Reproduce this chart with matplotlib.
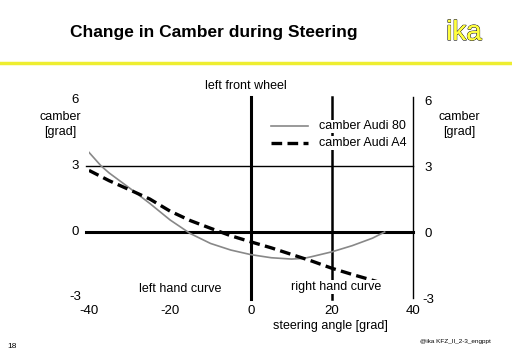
import matplotlib
matplotlib.use("Agg")
import matplotlib.pyplot as plt
import matplotlib.patheffects as pe

plt.rcParams['font.family'] = ['Liberation Sans', 'DejaVu Sans']

# steering angle [grad]
angle_80 = [-40, -37, -35, -30, -25, -20, -15, -10, -5, 0, 5, 10, 13, 15, 20, 25, 30, 33]
camber_80 = [3.62, 3.0, 2.68, 2.0, 1.3, 0.55, -0.07, -0.52, -0.82, -1.03, -1.17, -1.23, -1.2, -1.12, -0.9, -0.62, -0.28, 0.0]

angle_a4 = [-40, -35, -30, -25, -20, -15, -10, -5, 0, 5, 10, 15, 20, 25, 32]
camber_a4 = [2.8, 2.33, 1.92, 1.5, 0.95, 0.52, 0.17, -0.17, -0.45, -0.72, -1.02, -1.32, -1.65, -1.93, -2.3]

x_ticks = [-40, -20, 0, 20, 40]
y_ticks = [-3, 0, 3, 6]

W, H = 512, 354
fig = plt.figure(figsize=(W / 100, H / 100), dpi=100)

# header
fig.text(70 / W, 1 - 32 / H, "Change in Camber during Steering", fontsize=12.5,
         fontweight='bold', ha='left', va='center')
t = fig.text(464 / W, 1 - 33 / H, "ika", fontsize=20, color='#ffff40',
             ha='center', va='center')
t.set_path_effects([pe.withStroke(linewidth=0.8, foreground='black'), pe.Normal()])
fig.add_artist(plt.Line2D([0, 1], [1 - 63 / H, 1 - 63 / H], color='#eeee30', lw=2.5,
                          transform=fig.transFigure))
fig.text(12 / W, 1 - 346 / H, "18", fontsize=6, ha='center', va='center')
fig.text(455 / W, 1 - 342 / H, "@ika KFZ_II_2-3_engppt", fontsize=4.6, ha='center', va='center')

# axes: x -40..40 -> px 89..413 ; y -3..6 -> px 298..100
ax = fig.add_axes([89 / W, 1 - 298 / H, 324 / W, 198 / H])
ax.set_xlim(-40, 40)
ax.set_ylim(-3, 6)
ax.axis('off')

# grid / axis lines
ax.plot([-40.8, 40], [3, 3], color='black', lw=1, clip_on=False, zorder=1)
ax.plot([-40.8, 40], [0, 0], color='black', lw=2.2, clip_on=False, zorder=1)
ax.plot([0, 0], [-3.05, 6.15], color='black', lw=2.2, clip_on=False, zorder=1)
ax.plot([20, 20], [-3.05, 6.15], color='black', lw=1.8, clip_on=False, zorder=1)
ax.plot([40, 40], [-3.0, 6.15], color='black', lw=1, clip_on=False, zorder=1)

# curves
ax.plot(angle_80, camber_80, color='#888888', lw=1.2, zorder=3, label='camber Audi 80')
ax.plot(angle_a4, camber_a4, color='black', lw=2.4, dashes=(3.2, 1.6), zorder=3,
        label='camber Audi A4')

# tick labels
for xv in x_ticks:
    ax.text(xv, -3.6, f"{xv}", fontsize=9.5, ha='center', va='center')
for yv in y_ticks:
    ax.text(-43.5, yv + (0.05 if yv == -3 else 0), f"{yv}", fontsize=9.5, ha='center', va='center')
    ax.text(43.8, yv - 0.1, f"{yv}", fontsize=9.5, ha='center', va='center')

bb = dict(facecolor='white', edgecolor='none', pad=0.6)
ax.text(-1.2, 6.65, "left front wheel", fontsize=9, ha='center', va='center')
ax.text(19.5, -4.25, "steering angle [grad]", fontsize=9, ha='center', va='center')
ax.text(-47.2, 4.9, "camber\n[grad]", fontsize=9, ha='center', va='center', linespacing=1.3)
ax.text(51.5, 4.9, "camber\n[grad]", fontsize=9, ha='center', va='center', linespacing=1.3)
ax.text(-17.5, -2.6, "left hand curve", fontsize=9, ha='center', va='center', bbox=bb, zorder=4)
ax.text(21, -2.5, "right hand curve", fontsize=9, ha='center', va='center', bbox=bb, zorder=4)

# legend (manual placement)
ax.plot([5, 14], [4.8, 4.8], color='#888888', lw=1.2, clip_on=False)
ax.plot([5, 14], [4.05, 4.05], color='black', lw=2.4, dashes=(3.2, 1.6), clip_on=False)
ax.text(16.7, 4.8, "camber Audi 80", fontsize=9, ha='left', va='center', bbox=bb, zorder=4)
ax.text(16.7, 4.05, "camber Audi A4", fontsize=9, ha='left', va='center', bbox=bb, zorder=4)

fig.savefig("out.png", dpi=100, facecolor='white')
